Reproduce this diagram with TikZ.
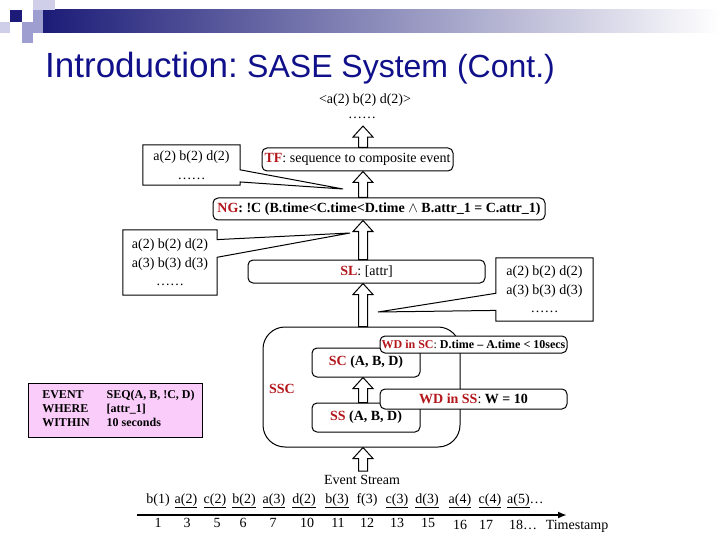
\documentclass[tikz,border=0pt]{standalone}
\usepackage{fontspec}
\setmainfont{Liberation Serif}
\newfontfamily\titlefont{Liberation Sans}
\usetikzlibrary{arrows.meta,calc,positioning}
\definecolor{titleBlue}{HTML}{10108A}
\definecolor{barNavy}{HTML}{1C1C78}
\definecolor{lavLight}{HTML}{CFCFEA}
\definecolor{lavMid}{HTML}{9E9ED0}
\definecolor{keyRed}{HTML}{B3161B}
\definecolor{queryPink}{HTML}{F9CCF9}
\newcommand{\kw}[1]{\textcolor{keyRed}{\textbf{#1}}}
% hollow block arrow from #1 (below) up to #2
\newcommand{\blockup}[2]{%
  \draw[blockArr] let \p1=(spine |- #1), \p2=(spine |- #2) in
    (\x1-4.5pt,\y1) -- (\x1-4.5pt,\y2-11pt) -- (\x1-10pt,\y2-11pt) -- (\x1,\y2)
    -- (\x1+10pt,\y2-11pt) -- (\x1+4.5pt,\y2-11pt) -- (\x1+4.5pt,\y1) -- cycle;}

\begin{document}
\begin{tikzpicture}[x=1pt,y=-1pt,>=Latex,
    roundBox/.style={draw,line width=1pt,rounded corners=5pt,fill=white,inner sep=0pt,font=\fontsize{14}{17}\selectfont},
    noteText/.style={inner sep=0pt,align=center,font=\fontsize{14}{18.5}\selectfont},
    outline/.style={line width=1pt},
    blockArr/.style={draw,fill=white,line width=1pt},
    plain/.style={font=\fontsize{14}{17}\selectfont}]
  \useasboundingbox (0,0) rectangle (720,540);
  % header
  \shade[left color=barNavy,right color=white] (43,10) rectangle (720,33);
  \fill[lavLight] (33,0) rectangle (55,10);
  \fill[lavLight] (0,22) rectangle (10,33);
  \fill[barNavy] (10,10) rectangle (22,22);
  \fill[lavMid] (33,10) rectangle (43,33);
  \fill[lavMid] (22,22) rectangle (33,43);
  \node[anchor=base west,inner sep=0pt,text=titleBlue,font=\titlefont\fontsize{35}{40}\selectfont] (title) at (45,78) {Introduction:};
  \node[base right=9pt of title,inner sep=0pt,text=titleBlue,font=\titlefont\fontsize{32}{38}\selectfont] (subtitle) {SASE System (Cont.)};

  \coordinate (spine) at (363,0);

  % output of TF
  \node[plain,anchor=base] (toptext) at (365,104) {<a(2) b(2) d(2)>};
  \node[plain,inner ysep=7pt] (topdots) at (362,118) {……};

  % stages
  \node[roundBox,minimum width=191pt,minimum height=23pt] (tf) at (357.5,159.5) {\kw{TF}: sequence to composite event};
  \node[roundBox,minimum width=332pt,minimum height=22pt] (ng) at (379,209) {\kw{NG}\textbf{: !C (B.time<C.time<D.time $\wedge$ B.attr\_1 = C.attr\_1)}};
  \node[roundBox,minimum width=237pt,minimum height=23pt] (sl) at (366.5,271.5) {\kw{SL}: [attr]};
  \node[roundBox,rounded corners=22pt,minimum width=197pt,minimum height=120pt] (ssc) at (361.5,387) {};
  \node[plain] (ssclabel) at (282,389) {\kw{SSC}};
  \node[roundBox,minimum width=108pt,minimum height=29pt] (sc) at (366,362.5) {\kw{SC} \textbf{(A, B, D)}};
  \node[roundBox,minimum width=108pt,minimum height=29pt] (ss) at (366,417.5) {\kw{SS} \textbf{(A, B, D)}};
  \node[roundBox,font=\fontsize{12}{14}\selectfont,minimum width=187pt,minimum height=17pt] (wdsc) at (473.5,344.5) {\kw{WD in SC}: \textbf{D.time -- A.time < 10secs}};
  \node[roundBox,minimum width=187pt,minimum height=20pt] (wdss) at (473.5,399) {\kw{WD in SS}: \textbf{W = 10}};

  % query
  \node[draw,line width=1pt,fill=queryPink,inner sep=0pt,minimum height=54pt,font=\fontsize{12}{14}\selectfont\bfseries] (query) at (115.5,410)
    {\begin{tabular}{@{\hspace{14pt}}l@{\hspace{17pt}}l@{\hspace{8pt}}}
      EVENT & SEQ(A, B, !C, D)\\
      WHERE & [attr\_1]\\
      WITHIN & 10 seconds
    \end{tabular}};

  % callouts
  \node[noteText,minimum width=97pt,minimum height=40pt] (noteA) at (191.5,165) {a(2) b(2) d(2)\\……};
  \coordinate (tipA) at (343,189);
  \draw[outline] (noteA.north west) -- (noteA.north east) -- ($(noteA.north east)!0.62!(noteA.south east)$) -- (tipA)
    -- ($(noteA.north east)!0.92!(noteA.south east)$) -- (noteA.south east) -- (noteA.south west) -- cycle;
  \node[noteText,minimum width=94pt,minimum height=65pt] (noteB) at (170,262.5) {a(2) b(2) d(2)\\a(3) b(3) d(3)\\……};
  \coordinate (tipB) at (350,233);
  \draw[outline] (noteB.north west) -- (noteB.north east) -- ($(noteB.north east)!0.15!(noteB.south east)$) -- (tipB)
    -- ($(noteB.north east)!0.42!(noteB.south east)$) -- (noteB.south east) -- (noteB.south west) -- cycle;
  \node[noteText,minimum width=97pt,minimum height=63pt] (noteC) at (544.5,289.5) {a(2) b(2) d(2)\\a(3) b(3) d(3)\\……};
  \coordinate (tipC) at (378,312);
  \draw[outline] (noteC.north east) -- (noteC.south east) -- (noteC.south west) -- ($(noteC.north west)!0.83!(noteC.south west)$) -- (tipC)
    -- ($(noteC.north west)!0.56!(noteC.south west)$) -- (noteC.north west) -- cycle;

  % event stream
  \node[plain,anchor=base] (evlabel) at (362,484) {Event Stream};
  \foreach \tok/\xx/\ul [count=\i] in {b(1)/158/0,a(2)/186/1,c(2)/215/1,b(2)/244/1,a(3)/274/1,d(2)/304/1,b(3)/337/1,f(3)/367/0,c(3)/397/1,d(3)/427/1,a(4)/460/1,c(4)/490/1}
    \node[plain,anchor=base] (ev\i) at (\xx,503) {\ifnum\ul=1 \underline{\tok}\else\tok\fi};
  \node[plain,anchor=base west,inner sep=0pt] (ev13) at (507,503) {\underline{a(5)}…};
  \coordinate (axisL) at (137,515);
  \coordinate (axisR) at (567,515);
  \draw[line width=2pt,-{Latex[length=9pt,width=7pt]}] (axisL) -- (axisR);
  \foreach \ts/\xx/\yy [count=\i] in {1/158/527,3/187/527,5/217/527,6/243/527,7/273/527,10/307/527,11/338/527,12/367/527,13/397/527,15/428/527,16/460/529,17/486/529,18…/523/529}
    \node[plain,anchor=base] (ts\i) at (\xx,\yy) {\ts};
  \node[plain,anchor=base] (tslabel) at (577,529) {Timestamp};

  % flow arrows
  \blockup{tf.north}{topdots.south}
  \blockup{ng.north}{tf.south}
  \blockup{sl.north}{ng.south}
  \blockup{ssc.north}{sl.south}
  \blockup{ss.north}{sc.south}
  \blockup{evlabel.north}{ssc.south}
\end{tikzpicture}
\end{document}
